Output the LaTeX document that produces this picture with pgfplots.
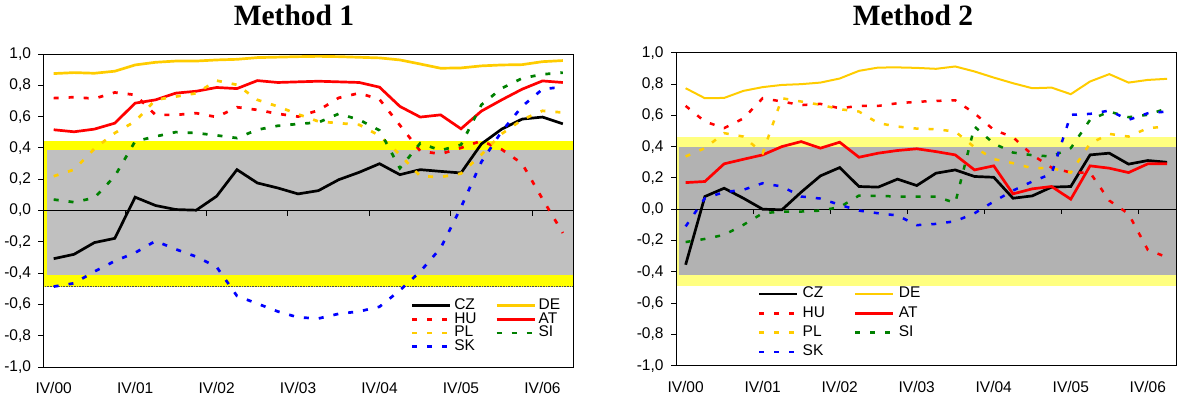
\documentclass[border=0pt]{standalone}
\usepackage{pgfplots}
\pgfplotsset{compat=1.18}
\usepackage{pgfplotstable}
\usepackage{fontspec}
\setmainfont{Liberation Sans}
\newfontfamily\titlefont{Liberation Serif}
\definecolor{gold}{HTML}{FFCC00}
\definecolor{dgreen}{HTML}{008000}
\definecolor{band1}{HTML}{FFFF00}
\definecolor{grey1}{HTML}{C0C0C0}
\definecolor{band2}{HTML}{FFFF80}
\definecolor{grey2}{HTML}{B2B2B2}

\pgfplotstableread{
x CZ DE HU AT PL SI SK
0 -0.308 0.875 0.718 0.516 0.219 0.070 -0.486
1 -0.280 0.881 0.724 0.503 0.261 0.053 -0.465
2 -0.205 0.877 0.715 0.520 0.395 0.081 -0.390
3 -0.178 0.890 0.754 0.558 0.495 0.219 -0.323
4 0.085 0.930 0.739 0.686 0.569 0.442 -0.270
5 0.032 0.947 0.611 0.707 0.707 0.473 -0.195
6 0.006 0.955 0.611 0.750 0.728 0.501 -0.248
7 0.002 0.955 0.622 0.762 0.749 0.495 -0.295
8 0.091 0.962 0.597 0.786 0.830 0.480 -0.360
9 0.261 0.966 0.660 0.779 0.803 0.463 -0.546
10 0.176 0.977 0.643 0.830 0.707 0.516 -0.595
11 0.144 0.980 0.618 0.818 0.665 0.541 -0.645
12 0.106 0.983 0.600 0.822 0.615 0.553 -0.683
13 0.127 0.985 0.640 0.826 0.569 0.563 -0.690
14 0.197 0.983 0.720 0.822 0.558 0.618 -0.660
15 0.244 0.979 0.750 0.818 0.548 0.580 -0.645
16 0.299 0.975 0.710 0.788 0.478 0.512 -0.615
17 0.229 0.962 0.545 0.665 0.357 0.270 -0.510
18 0.261 0.936 0.380 0.597 0.219 0.430 -0.390
19 0.250 0.909 0.361 0.611 0.214 0.384 -0.240
20 0.240 0.911 0.400 0.522 0.236 0.420 0.020
21 0.425 0.924 0.445 0.635 0.357 0.675 0.310
22 0.520 0.930 0.390 0.707 0.490 0.781 0.505
23 0.584 0.932 0.300 0.775 0.580 0.845 0.665
24 0.597 0.951 0.074 0.828 0.637 0.870 0.775
25 0.554 0.958 -0.144 0.818 0.626 0.881 0.790
}\methodone

\pgfplotstableread{
x CZ DE HU AT PL SI SK
0 -0.355 0.773 0.660 0.170 0.337 -0.210 -0.110
1 0.081 0.709 0.560 0.177 0.390 -0.190 0.070
2 0.134 0.711 0.518 0.290 0.486 -0.164 0.109
3 0.070 0.756 0.580 0.319 0.464 -0.100 0.124
4 0.000 0.780 0.709 0.347 0.358 -0.026 0.166
5 -0.004 0.794 0.688 0.400 0.709 -0.015 0.145
6 0.109 0.799 0.665 0.432 0.688 -0.015 0.081
7 0.213 0.809 0.673 0.390 0.667 -0.009 0.068
8 0.266 0.835 0.645 0.428 0.639 0.013 0.028
9 0.145 0.884 0.660 0.332 0.624 0.087 -0.009
10 0.141 0.905 0.660 0.358 0.550 0.085 -0.026
11 0.192 0.906 0.677 0.375 0.528 0.081 -0.040
12 0.151 0.903 0.686 0.386 0.515 0.081 -0.102
13 0.230 0.897 0.692 0.368 0.511 0.081 -0.094
14 0.251 0.912 0.696 0.347 0.496 0.040 -0.077
15 0.209 0.880 0.613 0.251 0.396 0.528 -0.026
16 0.204 0.841 0.507 0.277 0.320 0.420 0.049
17 0.070 0.805 0.460 0.098 0.294 0.362 0.119
18 0.085 0.773 0.347 0.130 0.262 0.345 0.177
19 0.141 0.777 0.266 0.145 0.262 0.337 0.226
20 0.145 0.735 0.234 0.064 0.234 0.390 0.603
21 0.347 0.816 0.234 0.277 0.420 0.571 0.609
22 0.358 0.863 0.055 0.262 0.481 0.624 0.630
23 0.288 0.809 -0.030 0.234 0.464 0.588 0.571
24 0.311 0.826 -0.260 0.290 0.518 0.603 0.613
25 0.300 0.833 -0.307 0.290 0.528 0.645 0.624
}\methodtwo

\pgfplotsset{
  common/.style={
    scale only axis, height=313pt,
    xmin=-0.5, xmax=25.5, ymin=-1, ymax=1,
    axis on top,
    xtick={0,4,8,12,16,20,24},
    xticklabels={IV/00,IV/01,IV/02,IV/03,IV/04,IV/05,IV/06},
    xtick style={draw=none},
    ytick={-1,-0.8,-0.6,-0.4,-0.2,0,0.2,0.4,0.6,0.8,1},
    ytick pos=left, tick align=outside, major tick length=5pt,
    ytick style={black, line width=0.9pt},
    axis line style={line width=0.9pt},
    tick label style={font=\fontsize{15.5}{18}\selectfont},
    xticklabel style={yshift=-7pt},
    yticklabel style={xshift=-4pt, /pgf/number format/.cd, fixed, fixed zerofill, precision=1, use comma, assume math mode=true},
    legend columns=2,
    legend cell align=left,
    legend image code/.code={\draw[##1] (0pt,0pt) -- (38pt,0pt);},
  },
  dsh/.style={dash pattern=on 5pt off 10pt},
}

\begin{document}
\begin{tikzpicture}
\path[use as bounding box] (0,0) rectangle (1178pt,401pt);

\begin{axis}[common, at={(43.5pt,34pt)}, anchor=south west, width=529.5pt,
  legend style={at={(axis cs:17.54,-0.564)}, anchor=north west, draw=none, fill=none,
    inner sep=0pt, outer sep=0pt, font=\fontsize{15.5}{15.5}\selectfont,
    nodes={inner sep=0pt, text height=10.7pt, text depth=3pt},
    /tikz/every odd column/.append style={column sep=2.7pt},
    /tikz/every even column/.append style={column sep=18.5pt}}]
\addplot[fill=band1, draw=none, forget plot] coordinates {(-0.5,-0.486) (25.5,-0.486) (25.5,0.446) (-0.5,0.446)};
\addplot[fill=grey1, draw=none, forget plot] coordinates {(-0.35,-0.412) (25.5,-0.412) (25.5,0.384) (-0.35,0.384)};
\addplot[black!70, densely dotted, line width=0.6pt, forget plot] coordinates {(-0.5,-0.486) (25.5,-0.486)};
\addplot[black, line width=0.9pt, forget plot] coordinates {(-0.5,0) (25.5,0)};
\pgfplotsinvokeforeach{3.5,7.5,11.5,15.5,19.5,23.5}{
  \addplot[black, line width=0.9pt, forget plot] coordinates {(#1,0) (#1,-0.032)};
}
\addplot[black, line width=2.7pt] table[x=x, y=CZ] {\methodone};
\addlegendentry{CZ}
\addplot[gold, line width=2.7pt] table[x=x, y=DE] {\methodone};
\addlegendentry{DE}
\addplot[red, dsh, line width=2.7pt] table[x=x, y=HU] {\methodone};
\addlegendentry{HU}
\addplot[red, line width=2.7pt] table[x=x, y=AT] {\methodone};
\addlegendentry{AT}
\addplot[gold, dsh, line width=2.7pt] table[x=x, y=PL] {\methodone};
\addlegendentry{PL}
\addplot[dgreen, dsh, line width=2.7pt] table[x=x, y=SI] {\methodone};
\addlegendentry{SI}
\addplot[blue, dsh, line width=2.7pt] table[x=x, y=SK] {\methodone};
\addlegendentry{SK}
\end{axis}

\begin{axis}[common, at={(676pt,35.3pt)}, anchor=south west, width=500.7pt,
  legend style={at={(axis cs:3.76,-0.48)}, anchor=north west, draw=none, fill=none,
    inner sep=0pt, outer sep=0pt, font=\fontsize{15.5}{15.5}\selectfont,
    nodes={inner sep=0pt, text height=13.5pt, text depth=5.8pt},
    /tikz/every odd column/.append style={column sep=4pt},
    /tikz/every even column/.append style={column sep=29pt}}]
\addplot[fill=band2, draw=none, forget plot] coordinates {(-0.5,-0.488) (25.5,-0.488) (25.5,0.46) (-0.5,0.46)};
\addplot[fill=grey2, draw=none, forget plot] coordinates {(-0.33,-0.42) (25.5,-0.42) (25.5,0.40) (-0.33,0.40)};
\addplot[black, line width=0.9pt, forget plot] coordinates {(-0.5,0) (25.5,0)};
\pgfplotsinvokeforeach{3.5,7.5,11.5,15.5,19.5,23.5}{
  \addplot[black, line width=0.9pt, forget plot] coordinates {(#1,0) (#1,-0.032)};
}
\addplot[black, line width=2.7pt] table[x=x, y=CZ] {\methodtwo};
\addlegendentry{CZ}
\addplot[gold, line width=2pt] table[x=x, y=DE] {\methodtwo};
\addlegendentry{DE}
\addplot[red, dsh, line width=2.5pt] table[x=x, y=HU] {\methodtwo};
\addlegendentry{HU}
\addplot[red, line width=2.7pt] table[x=x, y=AT] {\methodtwo};
\addlegendentry{AT}
\addplot[gold, dsh, line width=2.5pt] table[x=x, y=PL] {\methodtwo};
\addlegendentry{PL}
\addplot[dgreen, dsh, line width=2.5pt] table[x=x, y=SI] {\methodtwo};
\addlegendentry{SI}
\addplot[blue, dsh, line width=2.5pt] table[x=x, y=SK] {\methodtwo};
\addlegendentry{SK}
\end{axis}

\node[anchor=base, font=\titlefont\bfseries\fontsize{29.5}{32}\selectfont] at (294pt,375pt) {Method 1};
\node[anchor=base, font=\titlefont\bfseries\fontsize{29.5}{32}\selectfont] at (913pt,375pt) {Method 2};
\end{tikzpicture}
\end{document}
